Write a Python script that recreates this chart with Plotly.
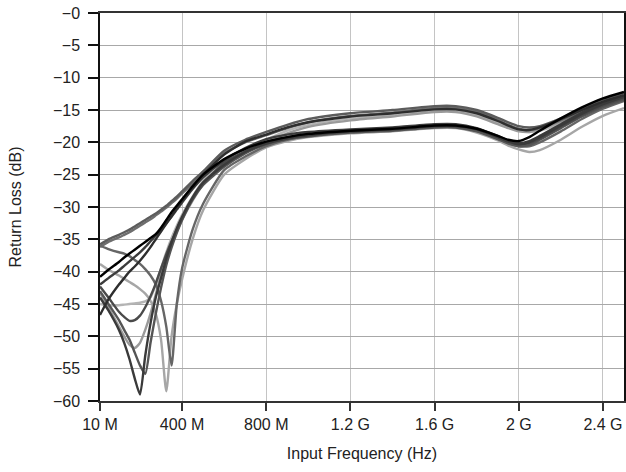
import plotly.graph_objects as go

FREQ_MHZ = [10, 50, 100, 125, 150, 175, 200, 225, 250, 275, 300, 325, 350, 375, 400, 450, 500,
            600, 700, 800, 900, 1000, 1200, 1400, 1600, 1700, 1800, 1900, 1950, 2000, 2050, 2100,
            2200, 2300, 2400, 2500]

C1 = [-35.8, -35.0, -34.3, -33.9, -33.5, -33.0, -32.5, -32.0, -31.5, -31.0, -30.4, -29.8, -29.1, -28.4, -27.6, -26.0, -24.5, -21.3, -19.6, -18.4,
      -17.3, -16.4, -15.5, -15.0, -14.4, -14.4, -15.0, -16.2, -16.9, -17.5, -17.7, -17.5, -16.3, -14.8, -13.4, -12.4]
C2 = [-36.2, -35.4, -34.7, -34.3, -33.9, -33.4, -32.9, -32.4, -31.9, -31.3, -30.7, -30.1, -29.4, -28.7, -27.9, -26.4, -24.8, -21.7, -20.0, -18.9,
      -17.8, -16.9, -15.9, -15.4, -14.7, -14.7, -15.3, -16.5, -17.3, -17.9, -18.1, -17.8, -16.6, -15.2, -13.9, -12.9]
C3 = [-40.8, -39.7, -38.5, -37.8, -37.2, -36.6, -36.0, -35.4, -34.8, -34.2, -33.2, -32.0, -30.8, -29.8, -28.8, -26.8, -25.0, -22.6, -21.0, -19.9,
      -19.2, -18.7, -18.2, -17.9, -17.4, -17.4, -17.9, -19.0, -19.6, -19.8, -19.2, -18.2, -16.3, -14.6, -13.2, -12.2]
C4 = [-42.0, -41.0, -39.8, -39.1, -38.4, -37.7, -37.0, -36.2, -35.3, -34.4, -33.5, -32.5, -31.5, -30.4, -29.3, -27.2, -25.4, -22.8, -20.9, -19.5,
      -18.8, -18.4, -18.0, -17.7, -17.2, -17.2, -17.8, -19.0, -19.7, -20.1, -19.8, -19.0, -17.2, -15.4, -13.9, -12.9]
C5 = [-46.7, -44.3, -42.0, -41.0, -40.0, -39.2, -38.3, -37.3, -36.2, -35.0, -33.8, -32.6, -31.4, -30.2, -29.0, -27.0, -25.0, -21.9, -19.9, -18.8,
      -17.7, -16.9, -16.0, -15.5, -14.9, -14.9, -15.5, -16.7, -17.4, -18.0, -18.1, -17.7, -16.4, -15.0, -13.7, -12.7]
C6 = [-36.0, -36.5, -37.0, -37.2, -37.6, -38.2, -38.8, -39.6, -40.6, -42.0, -44.5, -48.5, -54.5, -45.0, -39.5, -33.5, -29.5, -24.3, -22.2, -20.6,
      -19.6, -19.0, -18.4, -18.1, -17.6, -17.6, -18.2, -19.4, -20.1, -20.6, -20.6, -20.0, -18.3, -16.4, -14.8, -13.6]
C7 = [-44.0, -46.0, -49.0, -51.0, -53.5, -56.5, -59.0, -53.0, -48.0, -44.0, -41.0, -38.0, -35.5, -33.3, -31.5, -28.5, -26.2, -23.5, -21.5, -20.2,
      -19.4, -18.9, -18.3, -18.0, -17.5, -17.5, -18.0, -19.2, -19.9, -20.3, -20.0, -19.2, -17.4, -15.6, -14.1, -13.0]
C8 = [-43.0, -45.0, -47.5, -49.0, -50.5, -52.5, -54.5, -55.8, -51.0, -46.5, -42.5, -39.0, -36.3, -34.0, -32.0, -28.8, -26.6, -23.8, -21.7, -20.3,
      -19.5, -19.1, -18.5, -18.2, -17.7, -17.7, -18.3, -19.5, -20.2, -20.6, -20.4, -19.6, -17.8, -16.0, -14.5, -13.4]
C9 = [-43.3, -45.5, -48.5, -50.0, -51.3, -51.8, -51.0, -49.0, -46.5, -43.5, -40.5, -38.0, -35.8, -33.8, -32.0, -29.0, -26.5, -23.3, -21.4, -20.0,
      -18.6, -17.6, -16.6, -16.0, -15.3, -15.3, -16.0, -17.2, -17.8, -18.3, -18.4, -18.0, -16.8, -15.5, -14.2, -13.2]
C10 = [-42.3, -44.0, -46.2, -47.0, -47.6, -47.5, -46.8, -45.5, -43.8, -41.8, -39.5, -37.3, -35.3, -33.5, -31.8, -28.8, -26.4, -23.2, -21.4, -20.0,
       -19.2, -18.7, -18.2, -17.9, -17.3, -17.3, -17.9, -19.1, -19.8, -20.2, -20.1, -19.4, -17.6, -15.8, -14.3, -13.2]
C11 = [-45.0, -45.2, -45.2, -45.1, -45.0, -44.9, -44.8, -44.6, -44.0, -42.0, -39.5, -37.0, -34.8, -32.9, -31.2, -28.4, -26.0, -23.0, -21.0, -19.6,
       -18.2, -17.3, -16.3, -15.7, -15.0, -15.0, -15.7, -16.9, -17.6, -18.2, -18.4, -18.2, -17.1, -15.8, -14.5, -13.5]
C12 = [-38.8, -39.7, -40.6, -41.1, -41.6, -42.1, -42.7, -43.4, -44.5, -46.5, -50.5, -58.5, -50.0, -45.0, -41.2, -35.0, -30.5, -25.0, -22.6, -20.8,
       -19.8, -19.2, -18.6, -18.3, -17.8, -17.8, -18.5, -19.7, -20.5, -21.1, -21.5, -21.2, -19.6, -17.6, -15.9, -14.7]

SERIES = [C11, C12, C9, C2, C6, C1, C8, C10, C4, C7, C5, C3]
COLORS = ["#b4b4b4", "#a6a6a6", "#9a9a9a", "#6e6e6e", "#666666", "#5c5c5c",
          "#555555", "#4a4a4a", "#3c3c3c", "#3a3a3a", "#2e2e2e", "#000000"]

X_TICKS_HZ = [10e6, 400e6, 800e6, 1.2e9, 1.6e9, 2.0e9, 2.4e9]
X_TICK_TEXT = ["10 M", "400 M", "800 M", "1.2 G", "1.6 G", "2 G", "2.4 G"]
Y_TICKS = [0, -5, -10, -15, -20, -25, -30, -35, -40, -45, -50, -55, -60]
Y_TICK_TEXT = ["\u2212" + str(abs(v)) for v in Y_TICKS]

freq_hz = [f * 1e6 for f in FREQ_MHZ]

fig = go.Figure()
for vals, col in zip(SERIES, COLORS):
    fig.add_trace(go.Scatter(x=freq_hz, y=vals, mode="lines",
                             line=dict(color=col, width=2.4, shape="spline", smoothing=0.6),
                             showlegend=False, hoverinfo="skip"))

font_family = "Liberation Sans, Arial, Helvetica, sans-serif"
fig.update_layout(
    width=626, height=472,
    margin=dict(l=100, r=2, t=13, b=71),
    paper_bgcolor="white", plot_bgcolor="white",
    font=dict(family=font_family, size=16, color="#222222"),
)
fig.update_xaxes(
    range=[10e6, 2.5e9], tickvals=X_TICKS_HZ, ticktext=X_TICK_TEXT,
    showgrid=True, gridcolor="#c4c4c4", gridwidth=1.2,
    showline=True, linecolor="#333333", linewidth=1.5, mirror=True,
    ticks="outside", ticklen=8, tickcolor="#333333", tickwidth=1.5,
    zeroline=False, automargin=False, tickfont=dict(size=16),
    title=dict(text="Input Frequency (Hz)", standoff=16, font=dict(size=16)),
)
fig.update_yaxes(
    range=[-60, 0], tickvals=Y_TICKS, ticktext=Y_TICK_TEXT,
    showgrid=True, gridcolor="#a8a8a8", gridwidth=1.2,
    showline=True, linecolor="#111111", linewidth=1.5, mirror=True,
    ticks="outside", ticklen=10, tickcolor="#111111", tickwidth=1.5,
    zeroline=False, automargin=False, tickfont=dict(size=16),
    ticklabelstandoff=5,
    title=dict(text="Return Loss (dB)", standoff=27, font=dict(size=16)),
)

fig.write_html("out.html", config={"displayModeBar": False},
               post_script="document.body.style.margin='0';document.body.style.overflow='hidden';")
